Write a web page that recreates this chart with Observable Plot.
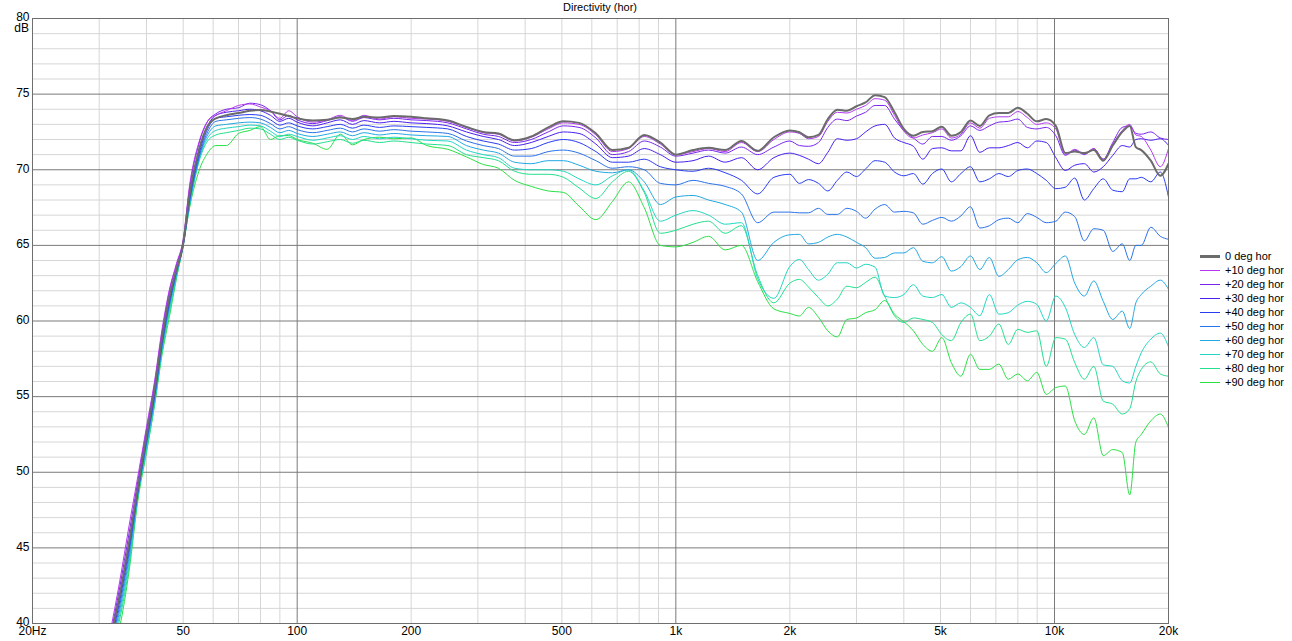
<!DOCTYPE html>
<html><head><meta charset="utf-8">
<script src="https://cdn.jsdelivr.net/npm/d3@7"></script>
<script src="https://cdn.jsdelivr.net/npm/@observablehq/plot@0.6"></script>
<style>
html,body{margin:0;padding:0;background:#fff;}
#wrap{position:relative;width:1292px;height:641px;font-family:"Liberation Sans",Arial,sans-serif;color:#000;}
#title{position:absolute;left:32px;width:1136px;top:1px;text-align:center;font-size:11px;}
#db{position:absolute;right:1263px;top:23px;font-size:12px;line-height:11px;}
#legend{position:absolute;left:1200px;top:249px;font-size:11px;}
.row{display:flex;align-items:center;height:14px;white-space:nowrap;}
.sw{width:20px;margin-right:5px;}
</style></head><body>
<div id="wrap"><div id="title">Directivity (hor)</div><div id="db">dB</div><div id="legend"></div></div>
<script>
const FREQ = [32,34,36,38,40,42,44,46,48,50,52,55,58,
 61,65,70,75,80,85,90,95,100,
 110,120,130,140,150,165,180,200,220,250,
 280,310,340,375,415,460,505,555,615,680,750,825,910,1000,1110,1220,1350,1490,1645,1815,2000,
 2120,2240,2380,2520,2670,2830,3000,3170,3360,3560,3780,4000,4240,4490,4760,5040,5340,5660,6000,6350,6730,7130,7550,8000,8480,8980,9510,10080,10680,11310,11990,12700,13450,14250,15100,15800,16400,16950,17960,19030,20000];

const D0 = [38.8,41.9,45.4,49.0,52.4,55.4,58.9,61.6,63.4,65.1,68.4,71.3,72.9,
 73.4,73.6,73.75,73.9,73.95,73.85,73.7,73.55,73.4,
 73.25,73.3,73.45,73.35,73.5,73.45,73.55,73.5,73.4,73.25,
 72.83,72.5,72.4,71.95,72.2,72.8,73.2,73.1,72.4,71.3,71.45,72.3,71.8,71.0,71.3,71.45,71.3,71.9,71.25,72.15,72.6,
 72.48,72.15,72.3,73.35,73.97,73.9,74.2,74.45,74.93,74.8,73.8,72.7,72.25,72.5,72.55,72.85,72.25,72.5,73.25,72.9,73.6,73.75,73.75,74.1,73.7,73.2,73.35,72.9,71.1,71.2,71.1,71.3,70.6,71.6,72.5,72.9,71.5,71.3,70.6,69.6,70.4];
const D10 = [39.3,42.8,46.5,49.8,53.0,56.0,59.5,62.1,63.8,65.4,69.0,71.8,73.2,
 73.6,73.9,74.25,74.35,74.15,73.9,73.4,73.9,73.5,
 73.15,73.3,73.6,73.25,73.6,73.35,73.5,73.4,73.35,73.2,
 72.8,72.45,72.35,71.9,72.15,72.7,73.1,73.0,72.3,71.2,71.4,72.2,71.7,71.0,71.2,71.4,71.2,71.8,71.2,72.0,72.5,
 72.4,72.05,72.2,73.2,73.8,73.75,74.0,74.25,74.7,74.6,73.6,72.55,72.1,72.3,72.45,72.7,72.1,72.35,73.1,72.75,73.4,73.5,73.5,73.85,73.45,73.0,73.1,72.7,71.0,71.35,71.05,71.4,70.7,71.7,72.6,73.0,72.3,72.2,71.3,70.2,71.4];
const D20 = [39.0,42.4,46.0,49.5,52.8,55.8,59.3,62.0,63.7,65.3,68.8,71.7,73.2,
 73.7,74.0,74.1,74.4,74.3,73.9,73.3,73.6,73.3,
 73.05,73.25,73.5,73.2,73.45,73.3,73.4,73.3,73.25,73.1,
 72.7,72.35,72.2,71.8,72.0,72.5,72.9,72.8,72.1,71.0,71.2,71.9,71.5,70.9,71.1,71.3,71.1,71.5,71.0,71.5,71.9,
 71.6,71.55,71.8,72.8,73.35,73.25,73.55,73.8,74.25,74.25,73.35,72.6,72.1,71.7,72.2,72.2,71.95,72.25,72.9,72.6,72.9,73.15,73.2,73.35,72.8,72.7,72.8,72.25,70.95,71.3,71.0,71.4,70.7,71.8,72.8,72.9,72.4,72.35,72.5,72.1,72.0];
const D30 = [38.7,41.8,45.3,49.0,52.3,55.3,58.8,61.5,63.4,65.1,68.3,71.2,72.9,
 73.6,73.8,73.9,74.0,73.9,73.6,73.2,73.4,73.15,
 72.9,73.1,73.3,73.0,73.25,73.1,73.2,73.1,73.05,72.9,
 72.5,72.2,72.0,71.6,71.8,72.2,72.5,72.4,71.7,70.8,70.9,71.4,71.0,70.5,70.6,70.9,70.5,70.8,70.0,70.8,71.1,
 70.95,70.7,70.4,71.15,72.05,71.95,72.05,72.5,72.9,73.0,72.1,71.8,71.55,70.7,71.4,71.45,71.25,71.25,72.25,71.15,71.45,71.45,71.6,71.8,71.45,71.9,71.8,70.8,69.95,70.3,70.4,69.85,70.2,70.95,71.6,71.5,72.0,72.05,71.95,72.05,71.6];
const D40 = [38.5,41.5,45.0,48.8,52.1,55.1,58.6,61.3,63.3,65.1,68.1,71.0,72.7,
 73.4,73.5,73.6,73.65,73.6,73.3,72.95,73.1,72.9,
 72.7,72.85,73.0,72.75,72.95,72.8,72.9,72.85,72.8,72.7,
 72.2,71.9,71.7,71.3,71.4,71.8,72.0,71.8,71.2,70.5,70.5,70.7,70.2,70.0,69.9,70.1,69.8,69.3,68.4,69.5,69.7,
 69.1,69.35,69.1,68.6,69.3,69.85,69.55,70.05,70.6,70.5,69.85,69.6,69.75,69.05,69.75,70.05,69.2,69.75,70.2,69.2,69.4,69.75,69.55,69.95,70.05,69.75,69.3,68.75,68.85,69.45,68.0,68.75,69.4,68.65,68.55,69.4,69.4,69.5,69.2,69.85,68.2];
const D50 = [38.3,41.2,44.7,48.7,51.9,54.9,58.4,61.1,63.2,65.0,67.9,70.8,72.5,
 73.2,73.3,73.4,73.45,73.35,73.05,72.7,72.85,72.65,
 72.45,72.6,72.75,72.5,72.7,72.55,72.65,72.55,72.5,72.4,
 71.9,71.6,71.4,70.9,70.9,71.2,71.3,71.1,70.6,70.1,70.2,70.0,69.1,69.0,69.3,69.1,68.9,68.4,66.5,67.2,67.2,
 67.15,67.15,67.45,67.05,67.05,67.45,67.25,66.8,67.4,67.7,67.2,67.25,67.15,66.4,66.65,66.85,66.6,66.95,67.55,66.15,66.3,66.7,66.8,66.5,67.1,66.85,66.5,66.6,67.2,66.9,65.3,66.1,66.0,64.6,65.1,64.0,65.0,65.0,66.2,65.6,65.4];
const D60 = [38.2,40.9,44.4,48.6,51.8,54.8,58.3,61.0,63.1,65.0,67.8,70.7,72.3,
 72.9,73.0,73.1,73.15,73.1,72.8,72.45,72.6,72.4,
 72.2,72.35,72.5,72.25,72.45,72.3,72.4,72.3,72.25,72.2,
 71.6,71.3,71.1,70.5,70.4,70.6,70.6,70.3,69.9,69.8,70.0,69.2,67.7,68.2,68.3,68.0,67.7,67.2,64.0,65.2,65.7,
 65.73,65.1,65.2,65.55,65.73,65.55,65.2,64.85,64.15,64.2,64.5,64.5,64.85,63.95,63.85,64.25,63.3,63.6,64.3,63.4,64.2,62.95,63.4,64.05,64.2,63.85,63.2,63.8,64.3,62.5,61.65,62.65,61.3,60.1,60.65,59.5,61.2,61.75,62.3,62.7,62.1];
const D70 = [38.1,40.6,44.1,48.5,51.6,54.6,58.1,60.8,63.0,65.0,67.7,70.6,72.1,
 72.6,72.75,72.85,72.95,72.9,72.55,72.2,72.35,72.2,
 71.95,72.1,72.25,72.0,72.2,72.05,72.15,72.05,71.95,71.9,
 71.3,71.0,70.8,70.1,70.0,70.0,69.9,69.4,69.0,69.6,70.0,68.6,66.6,67.0,67.3,67.0,66.4,66.5,62.8,61.5,63.6,
 64.07,63.4,62.7,63.1,63.85,63.85,63.5,63.75,63.55,61.65,61.55,61.75,62.4,61.65,61.55,61.75,60.9,61.2,60.9,60.35,61.75,60.45,60.55,61.05,61.3,61.1,60.0,61.65,60.9,59.1,58.25,58.9,57.1,57.0,56.05,55.9,57.0,57.9,58.8,59.2,58.3];
const D80 = [38.0,40.3,43.8,48.4,51.4,54.5,58.0,60.6,62.9,65.0,67.6,70.5,71.9,
 72.3,72.45,72.6,72.75,72.7,72.35,72.0,72.15,71.95,
 71.7,71.85,72.0,71.75,71.95,71.8,71.9,71.8,71.7,71.6,
 71.0,70.8,70.6,69.9,69.7,69.7,69.5,68.8,68.1,69.2,69.9,68.5,65.8,66.0,66.4,66.6,65.8,66.3,63.0,61.2,62.5,
 62.75,62.25,61.55,61.0,61.45,62.3,62.2,62.55,62.9,61.65,60.35,59.9,60.2,60.1,59.9,59.1,58.7,59.9,60.45,58.7,59.0,59.8,58.45,59.45,59.25,59.35,57.0,58.9,58.8,57.25,56.15,57.0,54.7,54.5,53.85,54.2,56.0,56.8,57.3,56.5,56.35];
const D90 = [37.8,39.8,43.5,48.2,51.3,54.4,57.8,60.3,62.8,65.0,67.5,69.9,71.1,
 71.6,71.6,72.4,72.6,72.85,72.0,72.25,72.26,72.0,
 71.75,71.35,72.35,71.65,72.0,72.15,72.05,72.1,71.6,71.35,
 70.85,70.35,70.1,69.3,68.9,68.6,68.5,67.6,66.7,67.9,69.2,67.5,65.0,64.9,65.2,65.6,64.7,65.0,62.6,60.8,60.5,
 60.33,60.9,60.25,59.35,58.95,60.1,60.2,60.55,60.75,61.35,60.45,59.95,59.35,58.45,58.0,58.9,57.25,56.35,57.8,56.8,56.8,57.15,56.15,56.5,56.05,56.6,55.15,55.6,55.7,53.4,52.5,53.6,51.1,51.5,51.3,48.5,52.0,52.5,53.4,53.85,52.95];

const SERIES = ["0 deg hor","+10 deg hor","+20 deg hor","+30 deg hor","+40 deg hor","+50 deg hor","+60 deg hor","+70 deg hor","+80 deg hor","+90 deg hor"];
const COLORS = ["#6b6b6b","#b338f0","#7a24ee","#4a1ff0","#2a3cf0","#2a72e8","#22a8e2","#22d6c2","#22e08e","#2ae046"];
const VALUES = [D0,D10,D20,D30,D40,D50,D60,D70,D80,D90];

const X_TICKS = [20,50,100,200,500,1000,2000,5000,10000,20000];
const X_LABELS = ["20Hz","50","100","200","500","1k","2k","5k","10k","20k"];
const X_MINOR = [30,40,50,60,70,80,90,200,300,400,500,600,700,800,900,2000,3000,4000,5000,6000,7000,8000,9000];
const X_MAJOR = [100,1000,10000];
const Y_TICKS = [40,45,50,55,60,65,70,75,80];
const Y_MINOR = d3.range(41,80).filter(v => v % 5 !== 0);
const Y_MAJOR = [45,50,55,60,65,70,75];

VALUES.forEach((a,i) => { if (a.length !== FREQ.length) console.error("length mismatch", SERIES[i], a.length); });

const rows = [];
SERIES.forEach((s, i) => FREQ.forEach((f, j) => rows.push({s, f, db: VALUES[i][j]})));
const colored = rows.filter(d => d.s !== SERIES[0]).reverse();
const gray = rows.filter(d => d.s === SERIES[0]);
const xLabelRows = X_TICKS.map((v, i) => ({v, label: X_LABELS[i]}));
const yLabelRows = Y_TICKS.map(v => ({v, label: String(v)}));

const FONT = '"Liberation Sans", Arial, sans-serif';
const chart = Plot.plot({
  width: 1292, height: 641,
  marginLeft: 32, marginRight: 124, marginTop: 18, marginBottom: 18,
  x: {type: "log", domain: [20, 20000], axis: null, label: null},
  y: {domain: [40, 80], axis: null, label: null},
  color: {domain: SERIES, range: COLORS},
  style: {fontFamily: FONT, fontSize: "12px", color: "#000", background: "#fff", overflow: "visible"},
  marks: [
    Plot.ruleX(X_MINOR, {stroke: "#d6d6d6", strokeWidth: 1}),
    Plot.ruleY(Y_MINOR, {stroke: "#d6d6d6", strokeWidth: 1}),
    Plot.ruleX(X_MAJOR, {stroke: "#7a7a7a", strokeWidth: 1}),
    Plot.ruleY(Y_MAJOR, {stroke: "#7a7a7a", strokeWidth: 1}),
    Plot.line(colored, {x: "f", y: "db", z: "s", stroke: "s", strokeWidth: 1, curve: "monotone-x", clip: true}),
    Plot.line(gray, {x: "f", y: "db", stroke: COLORS[0], strokeWidth: 2, curve: "monotone-x", clip: true}),
    Plot.frame({stroke: "#6e6e6e"}),
    Plot.text(xLabelRows, {x: "v", text: "label", frameAnchor: "bottom", lineAnchor: "top", dy: 3, fontSize: 12, fill: "#000"}),
    Plot.text(yLabelRows, {y: "v", text: "label", frameAnchor: "left", textAnchor: "end", dx: -3, dy: -1, fontSize: 12, fill: "#000"})
  ]
});
document.getElementById("wrap").prepend(chart);

const legend = document.getElementById("legend");
SERIES.forEach((s, i) => {
  const row = document.createElement("div");
  row.className = "row";
  const sw = document.createElement("div");
  sw.className = "sw";
  sw.style.borderTop = (i === 0 ? 3 : 1) + "px solid " + COLORS[i];
  const t = document.createElement("span");
  t.textContent = s;
  row.append(sw, t);
  legend.append(row);
});
</script>
</body></html>
